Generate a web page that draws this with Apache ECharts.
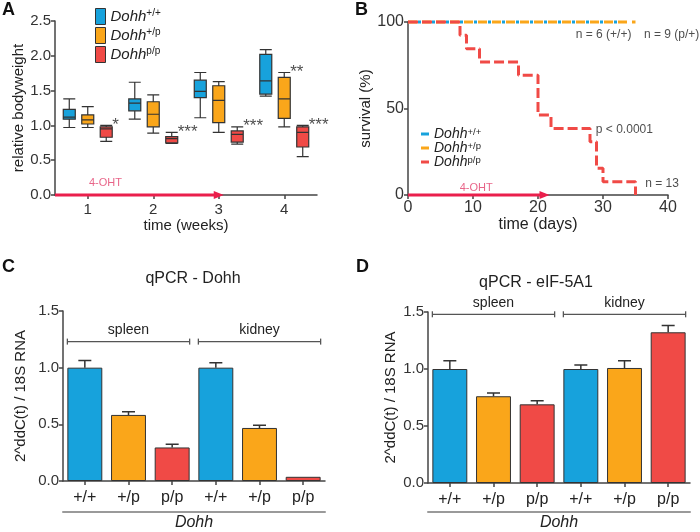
<!DOCTYPE html>
<html><head><meta charset="utf-8">
<script src="https://cdn.jsdelivr.net/npm/echarts@6/dist/echarts.min.js"></script>
<style>html,body{margin:0;padding:0;background:#fff}#c{width:700px;height:532px}</style>
</head><body><div id="c"></div>
<script>
// ================= DATA =================
const weeks = ['1', '2', '3', '4'];
const genotypeSup = ['+/+', '+/p', 'p/p'];
// Panel A boxplots: [min, Q1, median, Q3, max] per week
const bwWT  = [[0.97,1.09,1.12,1.23,1.38],[1.09,1.21,1.32,1.38,1.62],[1.11,1.40,1.49,1.65,1.76],[1.42,1.45,1.64,2.02,2.09]];
const bwHet = [[0.97,1.02,1.08,1.15,1.27],[0.89,0.98,1.16,1.34,1.44],[0.90,1.04,1.36,1.57,1.63],[0.98,1.10,1.38,1.69,1.76]];
const bwHom = [[0.77,0.83,0.95,0.98,1.00],[0.74,0.75,0.81,0.84,0.90],[0.73,0.76,0.87,0.92,0.98],[0.55,0.69,0.90,0.98,1.00]];
const sigWeek  = [1, 2, 3, 4, 4];
const sigGroup = [2, 2, 2, 1, 2];
const sigText  = ['*', '***', '***', '**', '***'];
const ohtEndWeek = 3;
// Panel B survival (days, %)
const survWT  = [[0,100],[33,100]];
const survHet = [[0,100],[35,100]];
const survHom = [[0,100],[8,92.3],[9,84.6],[11,76.9],[17,69.2],[20,46.2],[22,38.5],[28,30.8],[29,15.4],[30,7.7],[35,0]];
const ohtEndDay = 21;
const survNotes = [
  {x: 25.8, y: 92.5, text: 'n = 6 (+/+)'},
  {x: 36.3, y: 92.5, text: 'n = 9 (p/+)'},
  {x: 28.9, y: 37.6, text: 'p < 0.0001'},
  {x: 36.5, y: 6.4,  text: 'n = 13'}
];
// Panels C/D qPCR
const tissues = ['spleen', 'kidney'];
const qpcrCats = ['+/+', '+/p', 'p/p', '+/+', '+/p', 'p/p'];
const dohhMean = [1.00, 0.583, 0.296, 1.00, 0.468, 0.037];
const dohhSem  = [0.063, 0.029, 0.029, 0.043, 0.023, 0.0];
const eifMean  = [1.00, 0.761, 0.690, 1.00, 1.009, 1.322];
const eifSem   = [0.072, 0.029, 0.031, 0.034, 0.063, 0.060];
const bracketC = 1.23, bracketD = 1.48;

// ================= STYLE =================
const FONT = 'Liberation Sans, Arial, sans-serif';
const BLUE = '#17a2dc', ORANGE = '#faa61a', RED = '#f04a46', OHT = '#ea1f4c', TXT = '#222';
const groupColors = [BLUE, ORANGE, RED];
const boxShift = [-0.282, 0, 0.282];
const boxSets = [bwWT, bwHet, bwHom];

const axisLine = {show: true, onZero: false, lineStyle: {color: '#444', width: 1.5}};
const axisTick = {show: true, length: 4, lineStyle: {color: '#444', width: 1.5}};
function supLabel(i){ return '{i|Dohh}{s|' + genotypeSup[i] + '}'; }

const chart = echarts.init(document.getElementById('c'), null, {renderer: 'canvas'});

const series = [];
// --- Panel A boxplots
boxSets.forEach((set, g) => {
  series.push({
    name: 'A' + g, type: 'boxplot', xAxisIndex: 0, yAxisIndex: 0,
    boxWidth: [12, 12], data: set,
    itemStyle: {color: groupColors[g], borderColor: '#333', borderWidth: 1.2},
    emphasis: {disabled: true}, silent: true
  });
});
// significance stars
series.push({
  type: 'scatter', xAxisIndex: 1, yAxisIndex: 0, symbolSize: 0, silent: true,
  data: sigWeek.map((w, k) => ({value: [w + boxShift[sigGroup[k]], boxSets[sigGroup[k]][w - 1][4]],
    label: {formatter: sigText[k]}})),
  label: {show: true, position: 'right', distance: 6, fontSize: 17, color: TXT, fontFamily: FONT}
});
// 4-OHT arrow A
series.push({
  type: 'line', xAxisIndex: 1, yAxisIndex: 0, clip: false, silent: true, z: 5,
  symbol: 'none', lineStyle: {color: OHT, width: 3}, itemStyle: {color: OHT},
  data: [[0.5, 0], {value: [ohtEndWeek, 0], symbol: 'triangle', symbolSize: [8, 10], symbolRotate: -90}]
});
series.push({
  type: 'scatter', xAxisIndex: 1, yAxisIndex: 0, symbolSize: 0, silent: true,
  data: [{value: [1.27, 0.17]}],
  label: {show: true, position: 'inside', formatter: '4-OHT', fontSize: 11, color: '#e23d6a', fontFamily: FONT}
});

// --- Panel B survival
[[survWT, BLUE, [3, 11]], [survHet, ORANGE, [9, 5]], [survHom, RED, [10, 4]]].forEach((s, g) => {
  series.push({
    name: 'B' + g, type: 'line', xAxisIndex: 2, yAxisIndex: 1, step: 'end', clip: false, silent: true,
    symbol: 'none', data: s[0], color: s[1], z: 3 + g,
    lineStyle: {color: s[1], width: 3, type: s[2], dashOffset: g === 0 ? -10 : 0},
    itemStyle: {color: s[1]}
  });
});
series.push({
  type: 'scatter', xAxisIndex: 2, yAxisIndex: 1, symbolSize: 0, silent: true,
  data: survNotes.map(n => ({value: [n.x, n.y], label: {formatter: n.text}})),
  label: {show: true, position: 'inside', align: 'left', fontSize: 12, color: TXT, fontFamily: FONT}
});
series.push({
  type: 'line', xAxisIndex: 2, yAxisIndex: 1, clip: false, silent: true, z: 6,
  symbol: 'none', lineStyle: {color: OHT, width: 3}, itemStyle: {color: OHT},
  data: [[0, 0], {value: [ohtEndDay, 0], symbol: 'triangle', symbolSize: [8, 10], symbolRotate: -90}]
});
series.push({
  type: 'scatter', xAxisIndex: 2, yAxisIndex: 1, symbolSize: 0, silent: true,
  data: [{value: [10.5, 4]}],
  label: {show: true, position: 'inside', formatter: '4-OHT', fontSize: 11, color: '#e23d6a', fontFamily: FONT}
});

// --- Panels C / D
function qpcrPanel(xCat, xOv, yi, means, sems, bracketY) {
  series.push({
    type: 'bar', xAxisIndex: xCat, yAxisIndex: yi, barWidth: '80%', silent: true,
    data: means.map((m, i) => ({value: m, itemStyle: {color: groupColors[i % 3]}})),
    itemStyle: {borderColor: '#333', borderWidth: 1}
  });
  series.push({
    type: 'custom', xAxisIndex: xCat, yAxisIndex: yi, silent: true, z: 4, clip: false,
    data: means.map((m, i) => [i, m + sems[i]]),
    renderItem: function (params, api) {
      const i = params.dataIndex, s = sems[i];
      if (!(s > 0)) return null;
      const p = api.coord([i, means[i] + s]);
      const h = api.size([0, s])[1];
      return {type: 'polyline',
        shape: {points: [[p[0], p[1] + h], [p[0], p[1]], [p[0] - 6.5, p[1]], [p[0] + 6.5, p[1]]]},
        style: {stroke: '#333', lineWidth: 1.5, fill: null}};
    }
  });
  tissues.forEach((t, k) => {
    series.push({
      type: 'line', xAxisIndex: xOv, yAxisIndex: yi, silent: true,
      symbol: 'rect', symbolSize: [1.3, 6], lineStyle: {color: '#555', width: 1.3}, itemStyle: {color: '#555'},
      data: [[k * 3 - 0.4, bracketY],
             {value: [k * 3 + 1, bracketY], symbolSize: 0,
              label: {show: true, formatter: t, position: 'top', distance: 4, fontSize: 14, color: TXT, fontFamily: FONT}},
             [k * 3 + 2.4, bracketY]]
    });
  });
}
qpcrPanel(3, 4, 2, dohhMean, dohhSem, bracketC);
qpcrPanel(5, 6, 3, eifMean, eifSem, bracketD);

function valY(gi, max, interval, name, gap, dec) {
  return {type: 'value', gridIndex: gi, min: 0, max: max, interval: interval,
    axisLine: axisLine, axisTick: axisTick, splitLine: {show: false},
    axisLabel: {fontSize: gi === 1 ? 16 : 15, color: '#333', margin: 4, fontFamily: FONT,
      formatter: v => dec ? v.toFixed(1) : String(v)},
    name: name, nameLocation: 'middle', nameGap: gap,
    nameTextStyle: {fontSize: 15, color: TXT, fontFamily: FONT}};
}
function ovAxis(gi, offset) {
  return {type: 'value', gridIndex: gi, min: -0.5, max: 5.5, position: 'bottom', offset: offset,
    axisLine: {show: true, onZero: false, lineStyle: {color: '#9a9a9a', width: 2}}, axisTick: {show: false},
    axisLabel: {show: false}, splitLine: {show: false},
    name: 'Dohh', nameLocation: 'middle', nameGap: 3,
    nameTextStyle: {fontSize: 16, fontStyle: 'italic', color: TXT, fontFamily: FONT, verticalAlign: 'top'}};
}
function catAxis(gi) {
  return {type: 'category', gridIndex: gi, data: qpcrCats,
    axisLine: axisLine, axisTick: Object.assign({alignWithLabel: true}, axisTick),
    axisLabel: {fontSize: 16, color: TXT, margin: 9, fontFamily: FONT}};
}

const richA = {
  i: {fontSize: 15, fontStyle: 'italic', color: TXT, fontFamily: FONT, lineHeight: 16},
  s: {fontSize: 10, color: TXT, fontFamily: FONT, verticalAlign: 'top', lineHeight: 10}
};
const richB = {
  i: {fontSize: 14, fontStyle: 'italic', color: TXT, fontFamily: FONT, lineHeight: 14},
  s: {fontSize: 9.5, color: TXT, fontFamily: FONT, verticalAlign: 'top', lineHeight: 9}
};

chart.setOption({
  animation: false,
  textStyle: {fontFamily: FONT},
  grid: [
    {left: 55, right: 383, top: 21, bottom: 337},
    {left: 408, right: 32, top: 22, bottom: 337},
    {left: 63, right: 375, top: 311, bottom: 48},
    {left: 428, right: 10, top: 312, bottom: 48}
  ],
  xAxis: [
    {type: 'category', gridIndex: 0, data: weeks, axisLine: axisLine,
     axisTick: Object.assign({alignWithLabel: true}, axisTick),
     axisLabel: {fontSize: 15, color: '#333', margin: 7, fontFamily: FONT},
     name: 'time (weeks)', nameLocation: 'middle', nameGap: 22,
     nameTextStyle: {fontSize: 15, color: TXT, fontFamily: FONT, verticalAlign: 'top'}},
    {type: 'value', gridIndex: 0, min: 0.5, max: 4.5, show: false},
    {type: 'value', gridIndex: 1, min: 0, max: 40, interval: 10, axisLine: axisLine, axisTick: axisTick,
     splitLine: {show: false}, axisLabel: {fontSize: 16, color: '#333', margin: 5, fontFamily: FONT},
     name: 'time (days)', nameLocation: 'middle', nameGap: 22,
     nameTextStyle: {fontSize: 16, color: TXT, fontFamily: FONT, verticalAlign: 'top'}},
    catAxis(2), ovAxis(2, 31),
    catAxis(3), ovAxis(3, 29)
  ],
  yAxis: [
    valY(0, 2.5, 0.5, 'relative bodyweight', 27, true),
    valY(1, 100, 50, 'survival (%)', 25, false),
    valY(2, 1.5, 0.5, '2^ddC(t) / 18S RNA', 35, true),
    valY(3, 1.5, 0.5, '2^ddC(t) / 18S RNA', 30, true)
  ],
  legend: [
    {data: [0, 1, 2].map(g => ({name: 'A' + g, itemStyle: {color: groupColors[g], borderColor: '#333', borderWidth: 1}})),
     orient: 'vertical', left: 95, top: 8, padding: 0,
     itemWidth: 10, itemHeight: 16, itemGap: 2, icon: 'rect', selectedMode: false,
     formatter: n => supLabel(+n.slice(1)), textStyle: {rich: richA}},
    {data: [0, 1, 2].map(g => ({name: 'B' + g, itemStyle: {color: groupColors[g], borderWidth: 0}})),
     orient: 'vertical', left: 421, top: 127, padding: 0,
     itemWidth: 8, itemHeight: 3, itemGap: 0, icon: 'rect', selectedMode: false,
     lineStyle: {width: 0},
     formatter: n => supLabel(+n.slice(1)), textStyle: {rich: richB}}
  ],
  graphic: [
    {type: 'text', x: 2, y: 1, style: {text: 'A', font: 'bold 18px ' + FONT, fill: '#111'}},
    {type: 'text', x: 355, y: 1, style: {text: 'B', font: 'bold 18px ' + FONT, fill: '#111'}},
    {type: 'text', x: 2, y: 258, style: {text: 'C', font: 'bold 18px ' + FONT, fill: '#111'}},
    {type: 'text', x: 356, y: 258, style: {text: 'D', font: 'bold 18px ' + FONT, fill: '#111'}},
    {type: 'text', x: 193, y: 279, style: {text: 'qPCR - Dohh', font: '16px ' + FONT, fill: TXT, align: 'center', verticalAlign: 'middle'}},
    {type: 'text', x: 536, y: 283, style: {text: 'qPCR - eIF-5A1', font: '16px ' + FONT, fill: TXT, align: 'center', verticalAlign: 'middle'}}
  ],
  series: series
});
</script></body></html>
